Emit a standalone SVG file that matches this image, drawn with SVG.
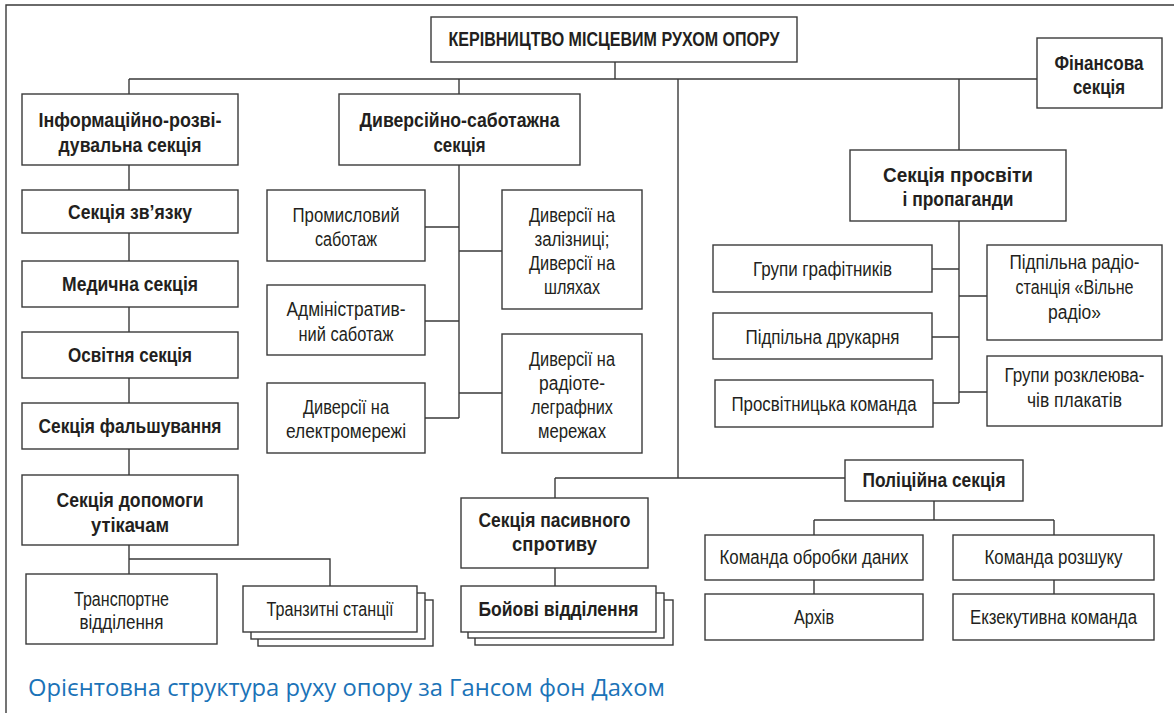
<svg xmlns="http://www.w3.org/2000/svg" width="1174" height="713" viewBox="0 0 1174 713">
<style>
  .box{fill:#fff;stroke:#3a3a3a;stroke-width:1.4}
  .ln{fill:none;stroke:#3a3a3a;stroke-width:1.4}
  text{font-family:"Liberation Sans",Arial,sans-serif;font-size:20px;fill:#231f20;text-anchor:middle}
  .b{font-weight:bold}
  .cap{font-family:"Open Sans","Noto Sans","Liberation Sans",sans-serif;font-size:23px;fill:#1b73b8;text-anchor:start}
</style>
<rect x="0" y="0" width="1174" height="713" fill="#fff"/>
<path class="ln" d="M6,713 V5 H1174"/>

<g id="connectors" class="ln">
  <path d="M615,62 V79 M129,79 H1037 M129,79 V94 M459,79 V94 M678,79 V478 M959,79 V150"/>
  <path d="M129,165 V190 M129,233 V261 M129,307 V332 M129,378 V403 M129,449 V475 M129,545 V574 M129,559 H330 V586"/>
  <path d="M459,165 V418 M425,227 H459 M425,321 H459 M425,418 H459 M459,251 H502 M459,393 H502"/>
  <path d="M959,221 V403 M932,269 H959 M932,337 H959 M933,403 H959 M959,296 H987 M959,392 H987"/>
  <path d="M555,478 H845 M555,478 V498 M555,568 V586"/>
  <path d="M934,501 V520 M814,520 H1054 M814,520 V535 M1054,520 V535 M814,580 V594 M1054,580 V594"/>
</g>

<g id="top"><rect class="box" x="431" y="17" width="366" height="45"/>
<text class="b" x="614" y="46" font-size="19" textLength="331" lengthAdjust="spacingAndGlyphs">КЕРІВНИЦТВО МІСЦЕВИМ РУХОМ ОПОРУ</text></g>

<g id="fin"><rect class="box" x="1037" y="38" width="125" height="70"/>
<text class="b" x="1099" y="70" textLength="89" lengthAdjust="spacingAndGlyphs">Фінансова</text>
<text class="b" x="1099" y="94" textLength="52" lengthAdjust="spacingAndGlyphs">секція</text></g>

<g id="info"><rect class="box" x="22" y="94" width="216" height="71"/>
<text class="b" x="130" y="127" textLength="183" lengthAdjust="spacingAndGlyphs">Інформаційно-розві-</text>
<text class="b" x="130" y="152" textLength="143" lengthAdjust="spacingAndGlyphs">дувальна секція</text></g>

<g id="zv"><rect class="box" x="22" y="190" width="216" height="43"/>
<text class="b" x="130" y="219" textLength="124" lengthAdjust="spacingAndGlyphs">Секція зв’язку</text></g>

<g id="med"><rect class="box" x="22" y="261" width="216" height="46"/>
<text class="b" x="130" y="291" textLength="136" lengthAdjust="spacingAndGlyphs">Медична секція</text></g>

<g id="osv"><rect class="box" x="22" y="332" width="216" height="46"/>
<text class="b" x="130" y="362" textLength="124" lengthAdjust="spacingAndGlyphs">Освітня секція</text></g>

<g id="fal"><rect class="box" x="22" y="403" width="216" height="46"/>
<text class="b" x="130" y="433" textLength="183" lengthAdjust="spacingAndGlyphs">Секція фальшування</text></g>

<g id="help"><rect class="box" x="22" y="475" width="216" height="70"/>
<text class="b" x="130" y="507" textLength="147" lengthAdjust="spacingAndGlyphs">Секція допомоги</text>
<text class="b" x="130" y="532" textLength="78" lengthAdjust="spacingAndGlyphs">утікачам</text></g>

<g id="transport"><rect class="box" x="26" y="574" width="191" height="70"/>
<text x="121.5" y="606" textLength="95" lengthAdjust="spacingAndGlyphs">Транспортне</text>
<text x="121.5" y="629" textLength="84" lengthAdjust="spacingAndGlyphs">відділення</text></g>

<g id="transit"><rect class="box" x="258" y="600" width="175" height="46"/>
<rect class="box" x="251" y="593" width="174" height="46"/>
<rect class="box" x="243" y="586" width="174" height="46"/>
<text x="330" y="616" textLength="127" lengthAdjust="spacingAndGlyphs">Транзитні станції</text></g>

<g id="div"><rect class="box" x="339" y="94" width="241" height="71"/>
<text class="b" x="459.5" y="127" textLength="200" lengthAdjust="spacingAndGlyphs">Диверсійно-саботажна</text>
<text class="b" x="459.5" y="152" textLength="52" lengthAdjust="spacingAndGlyphs">секція</text></g>

<g id="prom"><rect class="box" x="267" y="190" width="158" height="71"/>
<text x="346" y="222" textLength="107" lengthAdjust="spacingAndGlyphs">Промисловий</text>
<text x="346" y="246" textLength="62" lengthAdjust="spacingAndGlyphs">саботаж</text></g>

<g id="adm"><rect class="box" x="267" y="285" width="158" height="70"/>
<text x="346" y="316" textLength="119" lengthAdjust="spacingAndGlyphs">Адміністратив-</text>
<text x="346" y="341" textLength="95" lengthAdjust="spacingAndGlyphs">ний саботаж</text></g>

<g id="el"><rect class="box" x="267" y="383" width="158" height="70"/>
<text x="346" y="414" textLength="86" lengthAdjust="spacingAndGlyphs">Диверсії на</text>
<text x="346" y="438" textLength="120" lengthAdjust="spacingAndGlyphs">електромережі</text></g>

<g id="rail"><rect class="box" x="502" y="190" width="140" height="119"/>
<text x="572" y="222" textLength="86" lengthAdjust="spacingAndGlyphs">Диверсії на</text>
<text x="572" y="246" textLength="75" lengthAdjust="spacingAndGlyphs">залізниці;</text>
<text x="572" y="270" textLength="86" lengthAdjust="spacingAndGlyphs">Диверсії на</text>
<text x="572" y="294" textLength="56" lengthAdjust="spacingAndGlyphs">шляхах</text></g>

<g id="radiotel"><rect class="box" x="502" y="334" width="140" height="119"/>
<text x="572" y="366" textLength="86" lengthAdjust="spacingAndGlyphs">Диверсії на</text>
<text x="572" y="390" textLength="66" lengthAdjust="spacingAndGlyphs">радіоте-</text>
<text x="572" y="414" textLength="82" lengthAdjust="spacingAndGlyphs">леграфних</text>
<text x="572" y="438" textLength="68" lengthAdjust="spacingAndGlyphs">мережах</text></g>

<g id="pros"><rect class="box" x="850" y="150" width="216" height="71"/>
<text class="b" x="958" y="182" textLength="150" lengthAdjust="spacingAndGlyphs">Секція просвіти</text>
<text class="b" x="958" y="206" textLength="111" lengthAdjust="spacingAndGlyphs">і пропаганди</text></g>

<g id="graf"><rect class="box" x="713" y="245" width="219" height="47"/>
<text x="822.5" y="276" textLength="139" lengthAdjust="spacingAndGlyphs">Групи графітників</text></g>

<g id="druk"><rect class="box" x="713" y="313" width="219" height="46"/>
<text x="822.5" y="344" textLength="154" lengthAdjust="spacingAndGlyphs">Підпільна друкарня</text></g>

<g id="prosvcmd"><rect class="box" x="715" y="380" width="218" height="47"/>
<text x="824" y="411" textLength="185" lengthAdjust="spacingAndGlyphs">Просвітницька команда</text></g>

<g id="radio"><rect class="box" x="987" y="245" width="175" height="95"/>
<text x="1074.5" y="269" textLength="130" lengthAdjust="spacingAndGlyphs">Підпільна радіо-</text>
<text x="1074.5" y="294" textLength="118" lengthAdjust="spacingAndGlyphs">станція «Вільне</text>
<text x="1074.5" y="319" textLength="53" lengthAdjust="spacingAndGlyphs">радіо»</text></g>

<g id="rozkl"><rect class="box" x="987" y="356" width="175" height="70"/>
<text x="1074.5" y="382" textLength="140" lengthAdjust="spacingAndGlyphs">Групи розклеюва-</text>
<text x="1074.5" y="407" textLength="95" lengthAdjust="spacingAndGlyphs">чів плакатів</text></g>

<g id="passive"><rect class="box" x="461" y="498" width="187" height="70"/>
<text class="b" x="554.5" y="527" textLength="152" lengthAdjust="spacingAndGlyphs">Секція пасивного</text>
<text class="b" x="554.5" y="551" textLength="85" lengthAdjust="spacingAndGlyphs">спротиву</text></g>

<g id="boi"><rect class="box" x="475" y="600" width="198" height="45"/>
<rect class="box" x="468" y="593" width="196" height="45"/>
<rect class="box" x="461" y="586" width="195" height="46"/>
<text class="b" x="558.5" y="616" textLength="160" lengthAdjust="spacingAndGlyphs">Бойові відділення</text></g>

<g id="police"><rect class="box" x="845" y="460" width="178" height="41"/>
<text class="b" x="934" y="487" textLength="143" lengthAdjust="spacingAndGlyphs">Поліційна секція</text></g>

<g id="obr"><rect class="box" x="705" y="535" width="218" height="45"/>
<text x="814" y="564" textLength="189" lengthAdjust="spacingAndGlyphs">Команда обробки даних</text></g>

<g id="rozsh"><rect class="box" x="953" y="535" width="201" height="45"/>
<text x="1053.5" y="564" textLength="138" lengthAdjust="spacingAndGlyphs">Команда розшуку</text></g>

<g id="arch"><rect class="box" x="705" y="594" width="218" height="46"/>
<text x="814" y="624" textLength="40" lengthAdjust="spacingAndGlyphs">Архів</text></g>

<g id="exec"><rect class="box" x="953" y="594" width="201" height="46"/>
<text x="1053.5" y="624" textLength="167" lengthAdjust="spacingAndGlyphs">Екзекутивна команда</text></g>

<text class="cap" x="28" y="696" textLength="637" lengthAdjust="spacingAndGlyphs">Орієнтовна структура руху опору за Гансом фон Дахом</text>
</svg>
